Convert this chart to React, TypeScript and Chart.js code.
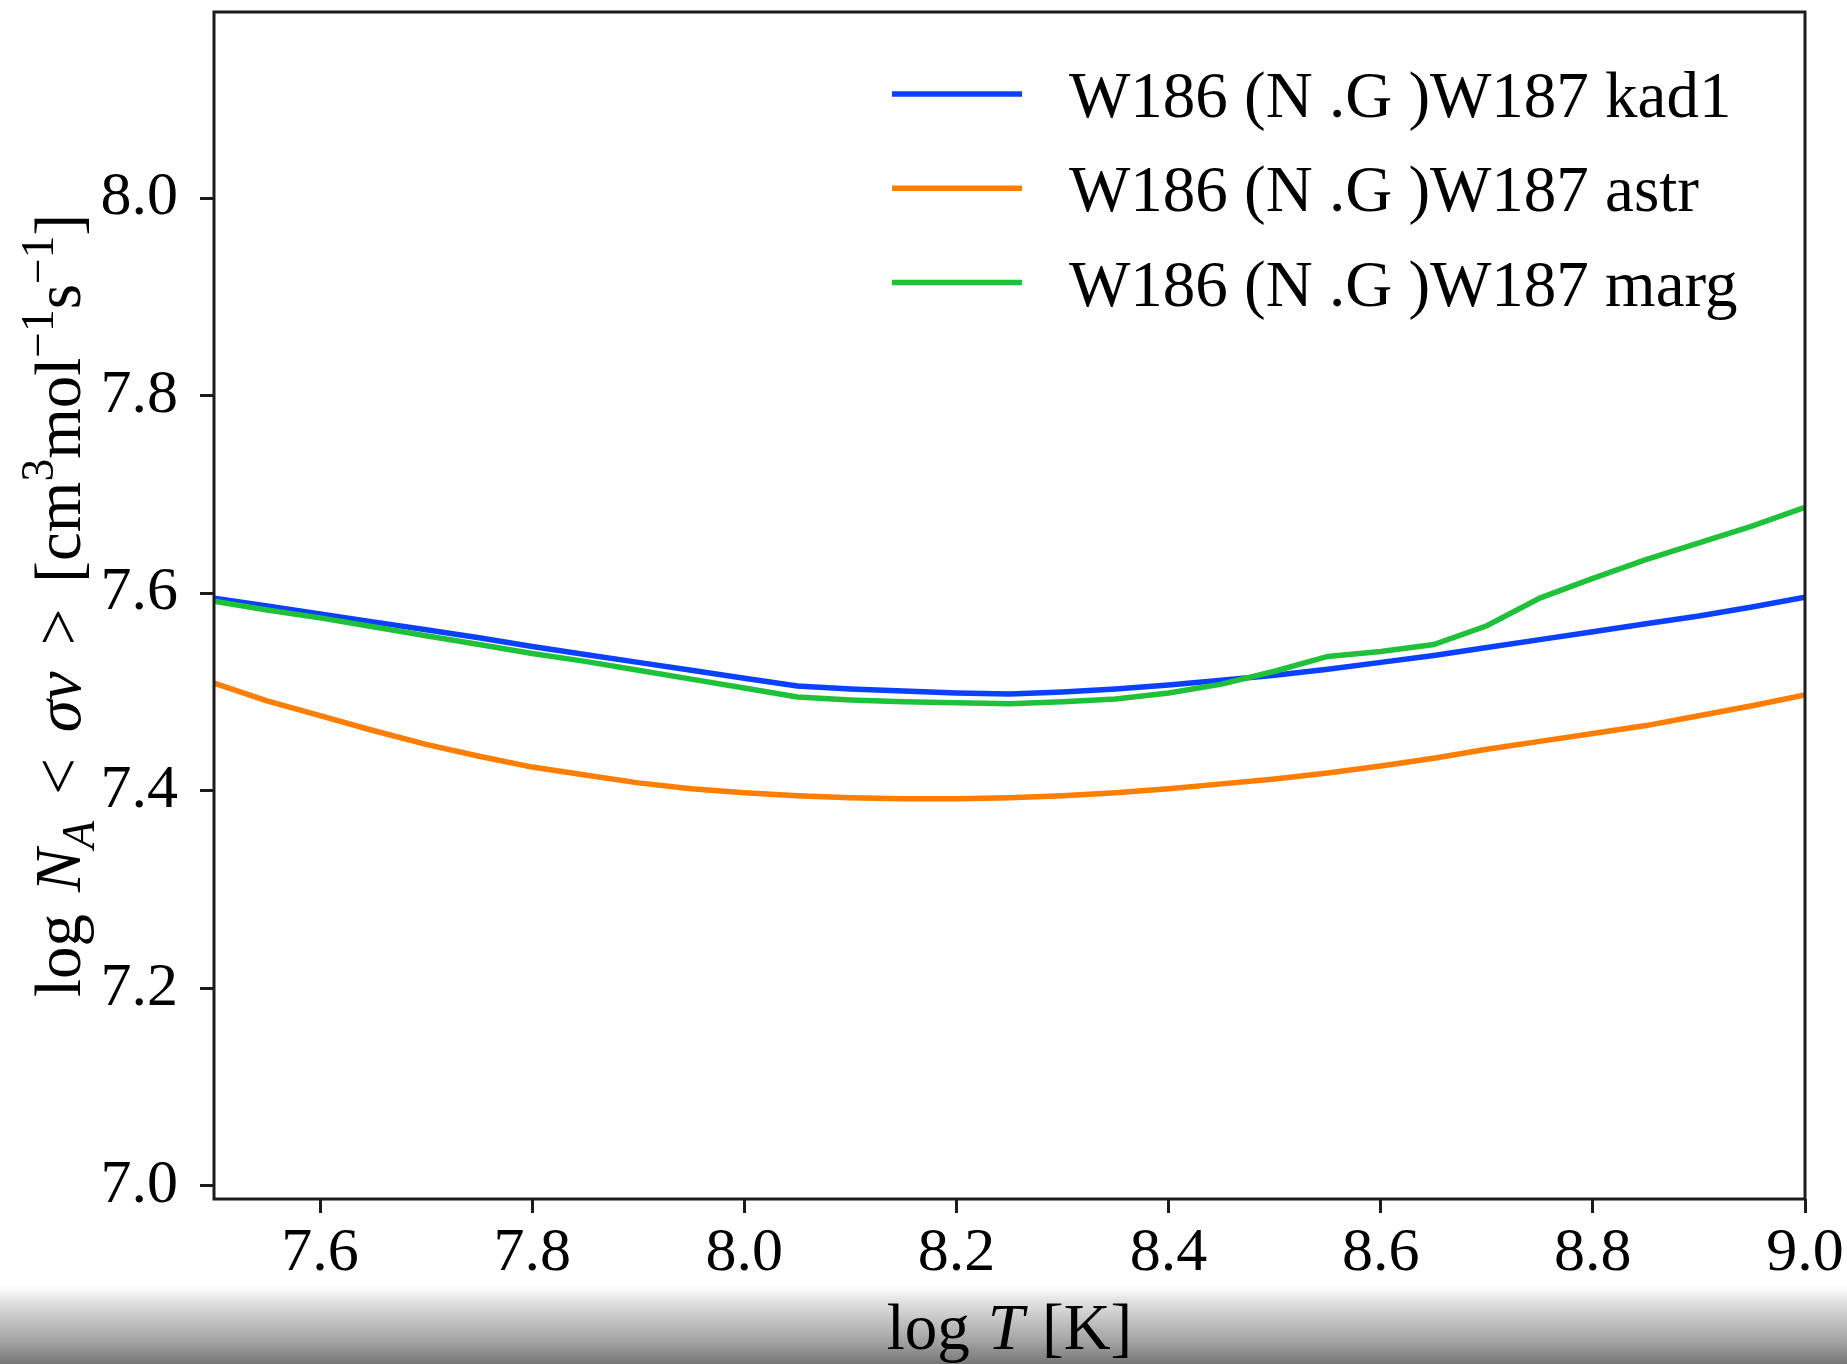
import { useEffect, useRef } from "react";
import { Chart, registerables } from "chart.js";

Chart.register(...registerables);

// Temperature grid (log T in K)
const LOG_T = [
  7.5, 7.55, 7.6, 7.65, 7.7, 7.75, 7.8, 7.85, 7.9, 7.95, 8.0,
  8.05, 8.1, 8.15, 8.2, 8.25, 8.3, 8.35, 8.4, 8.45, 8.5,
  8.55, 8.6, 8.65, 8.7, 8.75, 8.8, 8.85, 8.9, 8.95, 9.0,
];

// log N_A <sigma v> for each rate set
const KAD1 = [
  7.595, 7.587, 7.579, 7.571, 7.563, 7.555, 7.546, 7.538, 7.53, 7.522, 7.514,
  7.506, 7.503, 7.501, 7.499, 7.498, 7.5, 7.503, 7.507, 7.512, 7.517,
  7.523, 7.53, 7.537, 7.545, 7.553, 7.561, 7.569, 7.577, 7.586, 7.596,
];
const ASTR = [
  7.509, 7.491, 7.476, 7.461, 7.447, 7.435, 7.424, 7.416, 7.408, 7.402, 7.398,
  7.395, 7.393, 7.392, 7.392, 7.393, 7.395, 7.398, 7.402, 7.407, 7.412,
  7.418, 7.425, 7.433, 7.442, 7.45, 7.458, 7.466, 7.476, 7.486, 7.497,
];
const MARG = [
  7.592, 7.583, 7.575, 7.566, 7.557, 7.548, 7.539, 7.531, 7.522, 7.513, 7.504,
  7.495, 7.492, 7.49, 7.489, 7.488, 7.49, 7.493, 7.499, 7.508, 7.521,
  7.536, 7.541, 7.548, 7.567, 7.595, 7.615, 7.634, 7.651, 7.668, 7.687,
];

const X_TICKS = [7.6, 7.8, 8.0, 8.2, 8.4, 8.6, 8.8, 9.0];
const Y_TICKS = [7.0, 7.2, 7.4, 7.6, 7.8, 8.0];

const SERIES_LABELS = [
  "W186 (N .G )W187 kad1",
  "W186 (N .G )W187 astr",
  "W186 (N .G )W187 marg",
];
const SERIES_COLORS = ["#0a40ff", "#ff7d00", "#20c13a"];

const FONT = '"Liberation Serif", "DejaVu Serif", serif';
const TICK_SIZE = 62;
const TEXT_SIZE = 65;

type Piece = { t: string; italic?: boolean; script?: "sub" | "sup"; gap?: number };

const Y_TITLE: Piece[] = [
  { t: "log", gap: 22 },
  { t: "N", italic: true },
  { t: "A", italic: true, script: "sub", gap: 26 },
  { t: "<", gap: 26 },
  { t: "σv", italic: true, gap: 26 },
  { t: ">", gap: 26 },
  { t: "[cm" },
  { t: "3", script: "sup" },
  { t: "mol" },
  { t: "−1", script: "sup" },
  { t: "s" },
  { t: "−1", script: "sup" },
  { t: "]" },
];

const X_TITLE: Piece[] = [
  { t: "log", gap: 18 },
  { t: "T", italic: true, gap: 18 },
  { t: "[K]" },
];

function pieceFont(p: Piece, size: number) {
  const s = p.script ? size * 0.7 : size;
  return `${p.italic ? "italic " : ""}${s}px ${FONT}`;
}

function measureRich(ctx: CanvasRenderingContext2D, pieces: Piece[], size: number) {
  let w = 0;
  for (const p of pieces) {
    ctx.font = pieceFont(p, size);
    w += ctx.measureText(p.t).width + (p.gap ?? 0);
  }
  return w;
}

function drawRich(ctx: CanvasRenderingContext2D, pieces: Piece[], size: number, x0: number, y0: number) {
  let x = x0;
  ctx.textAlign = "left";
  ctx.textBaseline = "alphabetic";
  for (const p of pieces) {
    ctx.font = pieceFont(p, size);
    const dy = p.script === "sup" ? -size * 0.42 : p.script === "sub" ? size * 0.22 : 0;
    ctx.fillText(p.t, x, y0 + dy);
    x += ctx.measureText(p.t).width + (p.gap ?? 0);
  }
}

const decorations = {
  id: "decorations",
  beforeDraw(chart: Chart) {
    const { ctx, width, height } = chart;
    ctx.save();
    ctx.fillStyle = "#ffffff";
    ctx.fillRect(0, 0, width, height);
    const g = ctx.createLinearGradient(0, 1286, 0, height);
    g.addColorStop(0, "#ffffff");
    g.addColorStop(0.18, "#e4e4e4");
    g.addColorStop(0.45, "#c2c2c2");
    g.addColorStop(0.72, "#a2a2a2");
    g.addColorStop(1, "#767676");
    ctx.fillStyle = g;
    ctx.fillRect(0, 1286, width, height - 1286);
    ctx.restore();
  },
  afterDraw(chart: Chart) {
    const { ctx, chartArea } = chart;
    const { left, right, top, bottom } = chartArea;
    ctx.save();

    // axes frame
    ctx.strokeStyle = "#1c1c1c";
    ctx.lineWidth = 3;
    ctx.strokeRect(left, top, right - left, bottom - top);

    // legend
    ctx.fillStyle = "#000";
    ctx.textAlign = "left";
    ctx.textBaseline = "alphabetic";
    ctx.font = `${TEXT_SIZE}px ${FONT}`;
    SERIES_LABELS.forEach((label, i) => {
      const ly = top + 82 + i * 94.3;
      ctx.strokeStyle = SERIES_COLORS[i];
      ctx.lineWidth = 5.5;
      ctx.beginPath();
      ctx.moveTo(left + 678, ly);
      ctx.lineTo(left + 808, ly);
      ctx.stroke();
      ctx.fillText(label, left + 855, ly + 23);
    });

    // x axis title
    const xw = measureRich(ctx, X_TITLE, TEXT_SIZE);
    drawRich(ctx, X_TITLE, TEXT_SIZE, (left + right) / 2 - xw / 2, 1349);

    // y axis title
    const yw = measureRich(ctx, Y_TITLE, TEXT_SIZE);
    ctx.translate(80, (top + bottom) / 2);
    ctx.rotate(-Math.PI / 2);
    drawRich(ctx, Y_TITLE, TEXT_SIZE, -yw / 2, 0);

    ctx.restore();
  },
};

export default function App() {
  const canvasRef = useRef<HTMLCanvasElement | null>(null);

  useEffect(() => {
    const canvas = canvasRef.current;
    if (!canvas) return;
    const series = [KAD1, ASTR, MARG];
    const chart = new Chart(canvas, {
      type: "line",
      data: {
        datasets: series.map((vals, i) => ({
          label: SERIES_LABELS[i],
          data: LOG_T.map((x, j) => ({ x, y: vals[j] })),
          borderColor: SERIES_COLORS[i],
          backgroundColor: SERIES_COLORS[i],
          borderWidth: 5.5,
          pointRadius: 0,
          tension: 0,
          fill: false,
          order: 3 - i,
        })),
      },
      options: {
        animation: false,
        responsive: false,
        devicePixelRatio: 1,
        layout: { padding: { left: 0, right: 42, top: 12, bottom: 0 } },
        plugins: { legend: { display: false }, tooltip: { enabled: false } },
        scales: {
          x: {
            type: "linear",
            min: 7.5,
            max: 9.0,
            afterBuildTicks: (s: any) => {
              s.ticks = X_TICKS.map((v) => ({ value: v }));
            },
            afterFit: (s: any) => {
              s.height = 165;
              s.paddingLeft = 0;
              s.paddingRight = 0;
            },
            ticks: {
              autoSkip: false,
              maxRotation: 0,
              padding: 4,
              color: "#000",
              font: { family: FONT, size: TICK_SIZE },
              callback: (v: any) => Number(v).toFixed(1),
            },
            grid: {
              drawOnChartArea: false,
              drawTicks: true,
              tickLength: 14,
              tickWidth: 3,
              tickColor: "#1c1c1c",
            },
            border: { display: false },
          },
          y: {
            type: "linear",
            min: 6.9868,
            max: 8.1883,
            afterBuildTicks: (s: any) => {
              s.ticks = Y_TICKS.map((v) => ({ value: v }));
            },
            afterFit: (s: any) => {
              s.width = 214;
              s.paddingTop = 0;
              s.paddingBottom = 0;
            },
            ticks: {
              autoSkip: false,
              padding: 22,
              color: "#000",
              font: { family: FONT, size: TICK_SIZE },
              callback: (v: any) => Number(v).toFixed(1),
            },
            grid: {
              drawOnChartArea: false,
              drawTicks: true,
              tickLength: 14,
              tickWidth: 3,
              tickColor: "#1c1c1c",
            },
            border: { display: false },
          },
        },
      },
      plugins: [decorations],
    });
    return () => chart.destroy();
  }, []);

  return (
    <div style={{ position: "fixed", left: 0, top: 0, width: 1847, height: 1364, background: "#fff" }}>
      <canvas ref={canvasRef} width={1847} height={1364} style={{ display: "block" }} />
    </div>
  );
}
